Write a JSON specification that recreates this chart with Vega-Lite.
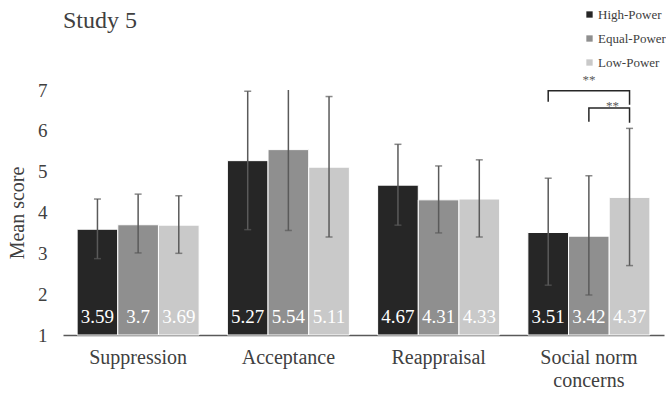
{
  "$schema": "https://vega.github.io/schema/vega-lite/v6.json",
  "autosize": {"type": "none"},
  "width": 601,
  "height": 245,
  "padding": {"left": 63, "top": 90, "right": 2, "bottom": 58},
  "background": "white",
  "title": {"text": "Study 5", "anchor": "start", "frame": "group", "font": "Liberation Serif, Times New Roman, serif", "fontSize": 24, "fontWeight": "normal", "color": "#404040", "offset": -25},
  "config": {
    "view": {"stroke": null},
    "font": "Liberation Serif, Times New Roman, serif",
    "axis": {"grid": false, "ticks": false, "labelFont": "Liberation Serif, Times New Roman, serif", "titleFont": "Liberation Serif, Times New Roman, serif", "labelColor": "#404040", "titleColor": "#404040", "labelFontSize": 19, "titleFontSize": 20, "titleFontWeight": "normal"},
    "legend": {"labelFont": "Liberation Serif, Times New Roman, serif", "labelFontSize": 13, "labelColor": "#404040", "labelLimit": 200}
  },
  "datasets": {
    "bars": [
      {"measure": "Suppression", "condition": "High-Power", "mean": 3.59, "lo": 2.87, "hi": 4.33},
      {"measure": "Suppression", "condition": "Equal-Power", "mean": 3.7, "lo": 3.01, "hi": 4.45},
      {"measure": "Suppression", "condition": "Low-Power", "mean": 3.69, "lo": 3.0, "hi": 4.41},
      {"measure": "Acceptance", "condition": "High-Power", "mean": 5.27, "lo": 3.58, "hi": 6.97},
      {"measure": "Acceptance", "condition": "Equal-Power", "mean": 5.54, "lo": 3.56, "hi": 7.52},
      {"measure": "Acceptance", "condition": "Low-Power", "mean": 5.11, "lo": 3.4, "hi": 6.84},
      {"measure": "Reappraisal", "condition": "High-Power", "mean": 4.67, "lo": 3.69, "hi": 5.67},
      {"measure": "Reappraisal", "condition": "Equal-Power", "mean": 4.31, "lo": 3.5, "hi": 5.14},
      {"measure": "Reappraisal", "condition": "Low-Power", "mean": 4.33, "lo": 3.4, "hi": 5.29},
      {"measure": "Social norm concerns", "condition": "High-Power", "mean": 3.51, "lo": 2.22, "hi": 4.84},
      {"measure": "Social norm concerns", "condition": "Equal-Power", "mean": 3.42, "lo": 1.98, "hi": 4.9},
      {"measure": "Social norm concerns", "condition": "Low-Power", "mean": 4.37, "lo": 2.7, "hi": 6.06}
    ],
    "brackets": [
      {"bracket": "big", "measure": "Social norm concerns", "condition": "High-Power", "y": 6.71, "ord": 1},
      {"bracket": "big", "measure": "Social norm concerns", "condition": "High-Power", "y": 6.98, "ord": 2},
      {"bracket": "big", "measure": "Social norm concerns", "condition": "Low-Power", "y": 6.98, "ord": 3},
      {"bracket": "big", "measure": "Social norm concerns", "condition": "Low-Power", "y": 6.64, "ord": 4},
      {"bracket": "small", "measure": "Social norm concerns", "condition": "Equal-Power", "y": 6.22, "ord": 1},
      {"bracket": "small", "measure": "Social norm concerns", "condition": "Equal-Power", "y": 6.56, "ord": 2},
      {"bracket": "small", "measure": "Social norm concerns", "condition": "Low-Power", "y": 6.56, "ord": 3},
      {"bracket": "small", "measure": "Social norm concerns", "condition": "Low-Power", "y": 6.2, "ord": 4}
    ],
    "starBig": [
      {"measure": "Social norm concerns", "condition": "Equal-Power", "y": 7.15, "label": "**"}
    ],
    "starSmall": [
      {"measure": "Social norm concerns", "condition": "Low-Power", "y": 6.52, "label": "**"}
    ]
  },
  "encoding": {
    "x": {"field": "measure", "type": "nominal", "sort": ["Suppression", "Acceptance", "Reappraisal", "Social norm concerns"],
      "scale": {"paddingInner": 0.188, "paddingOuter": 0.094},
      "axis": {"title": null, "labelAngle": 0, "labelPadding": 12, "labelFontSize": 20, "labelBaseline": "top", "labelLineHeight": 23, "domainColor": "#595959", "domainWidth": 1.5,
        "labelExpr": "datum.label == 'Social norm concerns' ? ['Social norm', 'concerns'] : datum.label"}},
    "xOffset": {"field": "condition", "type": "nominal", "sort": ["High-Power", "Equal-Power", "Low-Power"]}
  },
  "layer": [
    {
      "data": {"name": "bars"},
      "mark": {"type": "bar", "stroke": "white", "strokeWidth": 1},
      "encoding": {
        "y": {"field": "mean", "type": "quantitative", "scale": {"domain": [1, 7], "nice": false, "zero": false},
          "axis": {"title": "Mean score", "values": [1, 2, 3, 4, 5, 6, 7], "domain": false, "labelPadding": 16, "titlePadding": 10}},
        "y2": {"datum": 1},
        "color": {"field": "condition", "type": "nominal", "sort": ["High-Power", "Equal-Power", "Low-Power"],
          "scale": {"domain": ["High-Power", "Equal-Power", "Low-Power"], "range": ["#262626", "#8f8f8f", "#c9c9c9"]},
          "legend": {"title": null, "orient": "none", "legendX": 520, "legendY": -82, "symbolType": "square", "symbolSize": 40, "symbolStrokeWidth": 0, "rowPadding": 10, "labelOffset": 2}}
      }
    },
    {
      "data": {"name": "bars"},
      "mark": {"type": "rule", "color": "#5a5a5a", "strokeWidth": 1.5, "clip": true},
      "encoding": {"y": {"field": "lo", "type": "quantitative"}, "y2": {"field": "hi"}}
    },
    {
      "data": {"name": "bars"},
      "mark": {"type": "tick", "color": "#5a5a5a", "thickness": 1.5, "size": 7, "clip": true},
      "encoding": {"y": {"field": "lo", "type": "quantitative"}}
    },
    {
      "data": {"name": "bars"},
      "mark": {"type": "tick", "color": "#5a5a5a", "thickness": 1.5, "size": 7, "clip": true},
      "encoding": {"y": {"field": "hi", "type": "quantitative"}}
    },
    {
      "data": {"name": "bars"},
      "mark": {"type": "text", "color": "white", "fontSize": 19, "baseline": "alphabetic", "dy": -12, "font": "Liberation Serif, Times New Roman, serif"},
      "encoding": {"y": {"datum": 1}, "text": {"field": "mean", "type": "quantitative"}}
    },
    {
      "data": {"name": "brackets"},
      "mark": {"type": "line", "color": "#262626", "strokeWidth": 1.5},
      "encoding": {"y": {"field": "y", "type": "quantitative"}, "detail": {"field": "bracket"}, "order": {"field": "ord"}}
    },
    {
      "data": {"name": "starBig"},
      "mark": {"type": "text", "color": "#595959", "fontSize": 13, "baseline": "alphabetic", "font": "Liberation Serif, Times New Roman, serif"},
      "encoding": {"y": {"field": "y", "type": "quantitative"}, "text": {"field": "label"}}
    },
    {
      "data": {"name": "starSmall"},
      "mark": {"type": "text", "color": "#595959", "fontSize": 13, "baseline": "alphabetic", "dx": -17, "font": "Liberation Serif, Times New Roman, serif"},
      "encoding": {"y": {"field": "y", "type": "quantitative"}, "text": {"field": "label"}}
    }
  ]
}
